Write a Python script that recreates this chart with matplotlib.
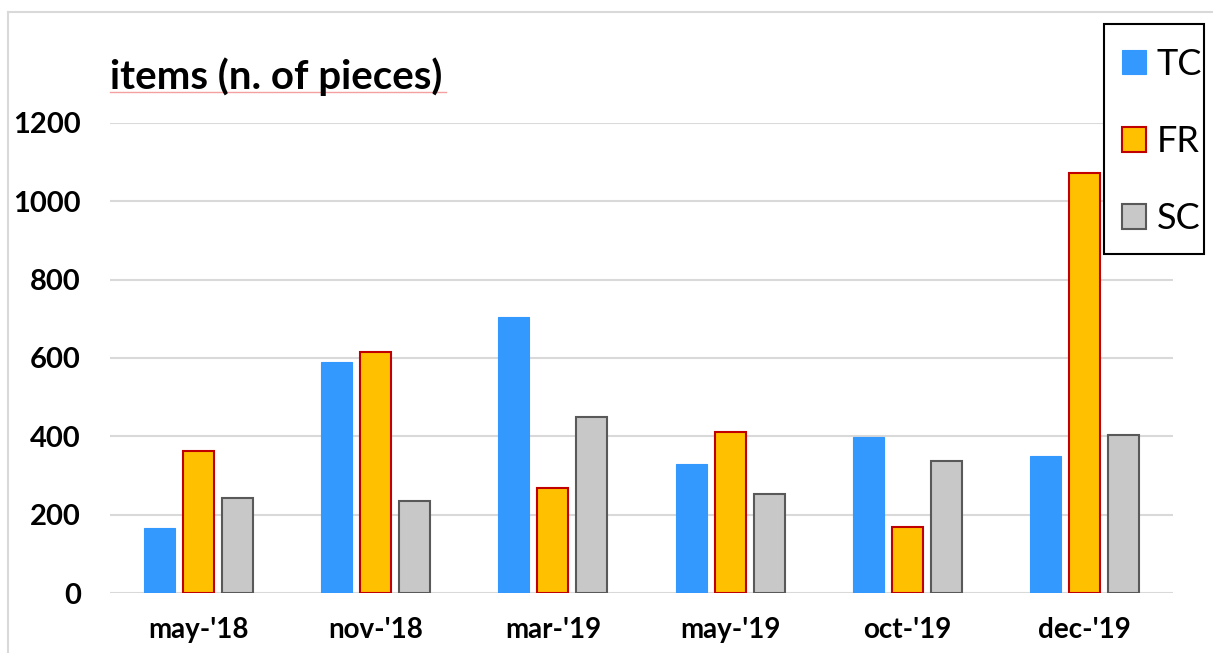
import numpy as np
import matplotlib
matplotlib.use("Agg")
import matplotlib.pyplot as plt
from matplotlib.lines import Line2D
from matplotlib.patches import Rectangle

plt.rcParams['font.family'] = ['Lato', 'DejaVu Sans']

months = ["may-'18", "nov-'18", "mar-'19", "may-'19", "oct-'19", "dec-'19"]
tc = [165, 591, 704, 329, 398, 351]
fr = [363, 615, 267, 412, 168, 1073]
sc = [242, 236, 450, 254, 337, 403]
y_ticks = [0, 200, 400, 600, 800, 1000, 1200]

W, H = 1213, 653
fig = plt.figure(figsize=(W / 100, H / 100), dpi=100)
ax = fig.add_axes([110 / W, 1 - 593 / H, (1173 - 110) / W, (593 - 123) / H])

x = np.arange(len(months))
bw = 0.175
step = 0.22
ax.bar(x - step, tc, bw, color='#3399FF', edgecolor='#3399FF', linewidth=0.8, label='TC', zorder=3)
ax.bar(x, fr, bw, color='#FFC000', edgecolor='#C00000', linewidth=1.5, label='FR', zorder=3)
ax.bar(x + step, sc, bw, color='#C8C8C8', edgecolor='#595959', linewidth=1.5, label='SC', zorder=3)

ax.set_xlim(-0.5, len(months) - 0.5)
ax.set_ylim(0, 1200)
ax.set_yticks(y_ticks)
ax.set_yticklabels([str(v) for v in y_ticks], fontsize=21, fontweight='bold')
ax.set_xticks(x)
ax.set_xticklabels(months, fontsize=20, fontweight='bold')
ax.tick_params(axis='y', length=0, pad=21)
ax.tick_params(axis='x', length=0, pad=17)
ax.grid(axis='y', color='#D9D9D9', linewidth=1.5, zorder=0)
for s in ax.spines.values():
    s.set_visible(False)

# outer chart frame
fig.add_artist(Line2D([8 / W, 8 / W], [0, 1 - 12 / H], color='#D9D9D9', linewidth=1.5))
fig.add_artist(Line2D([8 / W, 1], [1 - 12 / H, 1 - 12 / H], color='#D9D9D9', linewidth=1.5))

# title with the pink underline
fig.text(110 / W, 1 - 89 / H, "items (n. of pieces)", fontsize=29, fontweight='bold', va='baseline', ha='left')
fig.add_artist(Line2D([110 / W, 446 / W], [1 - 92 / H, 1 - 92 / H], color='#F4A0A0', linewidth=1))

# legend box drawn by hand, legend itself frameless
fig.add_artist(Rectangle((1104 / W, 1 - 254 / H), 100 / W, 230 / H, transform=fig.transFigure,
                         facecolor='white', edgecolor='black', linewidth=1.5, zorder=4))
leg = fig.legend(loc='upper left', bbox_to_anchor=(1122 / W, 1 - 48 / H), fontsize=26,
                 handlelength=0.66, handleheight=0.66, handletextpad=0.3, labelspacing=1.22,
                 borderpad=0, borderaxespad=0, frameon=False)
leg.set_zorder(5)

fig.savefig('out.png', dpi=100)
